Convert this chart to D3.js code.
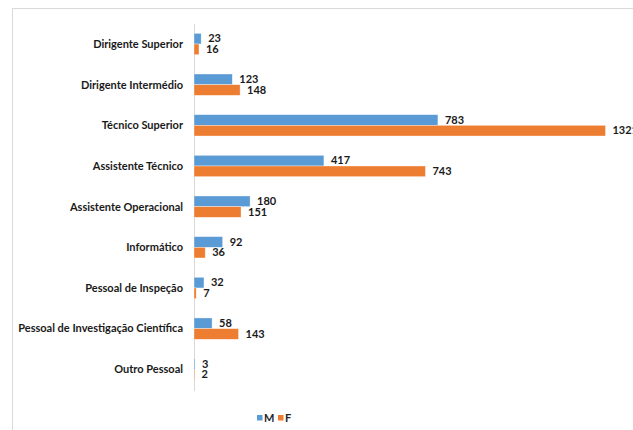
<!DOCTYPE html>
<html>
<head>
<meta charset="utf-8">
<script src="https://cdn.jsdelivr.net/npm/d3@7"></script>
<style>
  body { margin: 0; background: #fff; }
  text { font-family: Lato, "Open Sans", sans-serif; font-weight: bold; }
</style>
</head>
<body>
<div id="vis"></div>
<script>
const width = 633;
const height = 430;

const categories = [
  "Dirigente Superior",
  "Dirigente Intermédio",
  "Técnico Superior",
  "Assistente Técnico",
  "Assistente Operacional",
  "Informático",
  "Pessoal de Inspeção",
  "Pessoal de Investigação Científica",
  "Outro Pessoal"
];
const seriesNames = ["M", "F"];
const valuesM = [23, 123, 783, 417, 180, 92, 32, 58, 3];
const valuesF = [16, 148, 1321, 743, 151, 36, 7, 143, 2];
const colors = ["#5B9BD5", "#ED7D31"];

const rows = categories.map((c, i) => ({ cat: c, vals: [valuesM[i], valuesF[i]] }));

const svg = d3.select("#vis")
  .append("svg")
  .attr("width", width)
  .attr("height", height);

// chart frame (top and left edges visible)
svg.append("line")
  .attr("x1", 12).attr("x2", width).attr("y1", 8.5).attr("y2", 8.5)
  .attr("stroke", "#d9d9d9");
svg.append("line")
  .attr("x1", 12.5).attr("x2", 12.5).attr("y1", 8).attr("y2", height)
  .attr("stroke", "#d9d9d9");

const x = d3.scaleLinear()
  .domain([0, 1400])
  .range([194, 194 + 1400 * 0.3115]);

const y = d3.scaleBand()
  .domain(categories)
  .range([23.7, 389.6])
  .paddingInner(0.475)
  .paddingOuter(0.2375);

const ySub = d3.scaleBand()
  .domain(seriesNames)
  .range([0, y.bandwidth()]);

// axis line
svg.append("line")
  .attr("x1", 194.5).attr("x2", 194.5)
  .attr("y1", 24).attr("y2", 391)
  .attr("stroke", "#d9d9d9");

// category labels
svg.selectAll(".cat")
  .data(categories)
  .enter()
  .append("text")
  .attr("class", "cat")
  .attr("x", 183)
  .attr("y", d => y(d) + y.bandwidth() / 2)
  .attr("dy", "0.35em")
  .attr("text-anchor", "end")
  .attr("font-size", "11px")
  .attr("fill", "#1a1a1a")
  .text(d => d);

const groups = svg.selectAll(".grp")
  .data(rows)
  .enter()
  .append("g")
  .attr("transform", d => `translate(0,${y(d.cat)})`);

groups.selectAll("rect")
  .data(d => d.vals.map((v, i) => ({ v, s: seriesNames[i], i })))
  .enter()
  .append("rect")
  .attr("x", x(0))
  .attr("y", d => ySub(d.s))
  .attr("width", d => x(d.v) - x(0))
  .attr("height", ySub.bandwidth())
  .attr("fill", d => colors[d.i])
  .attr("stroke", "#fff")
  .attr("stroke-opacity", 0.6)
  .attr("stroke-width", 0.6);

groups.selectAll(".val")
  .data(d => d.vals.map((v, i) => ({ v, s: seriesNames[i] })))
  .enter()
  .append("text")
  .attr("class", "val")
  .attr("x", d => x(d.v) + 7)
  .attr("y", d => ySub(d.s) + ySub.bandwidth() / 2)
  .attr("dy", "0.33em")
  .attr("font-size", "11px")
  .attr("fill", "#1a1a1a")
  .text(d => d.v);

// legend
const legend = svg.append("g").attr("transform", "translate(257,415)");
seriesNames.forEach((s, i) => {
  const g = legend.append("g").attr("transform", `translate(${i * 21},0)`);
  g.append("rect")
    .attr("width", 5.5).attr("height", 5.5)
    .attr("fill", colors[i]);
  g.append("text")
    .attr("x", 7).attr("y", 3)
    .attr("dy", "0.35em")
    .attr("font-size", "11px")
    .attr("fill", "#262626")
    .text(s);
});
</script>
</body>
</html>
